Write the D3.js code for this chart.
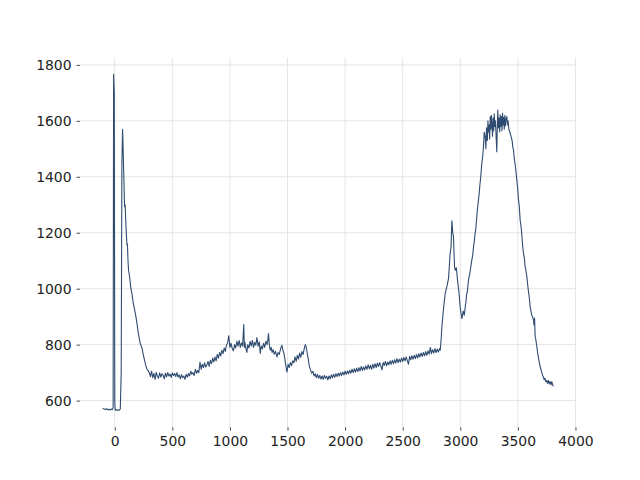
<!DOCTYPE html>
<html><head><meta charset="utf-8">
<script src="https://cdn.jsdelivr.net/npm/d3@7"></script>
<style>body{margin:0;background:#fff}</style>
</head><body>
<script>
const xValues = [
-106,-90,-80,-70,-60,-50,-40,-30,-20,-14,
-10,-4,0,4,10,20,30,40,48,56,
62,68,74,80,85,90,95,100,106,110,
115,120,130,140,149,160,170,184,195,205,
221,235,250,259,270,280,288,300,310,320,
330,340,350,360,370,380,390,400,410,420,
430,440,450,460,470,480,490,500,510,520,
530,540,550,560,570,580,590,600,610,620,
630,640,650,660,670,680,690,700,710,720,
730,740,750,760,770,780,790,800,810,820,
830,840,850,860,870,880,890,900,910,920,
930,940,950,960,970,980,990,1000,1010,1020,
1030,1040,1050,1060,1070,1080,1090,1100,1110,1120,
1125,1130,1140,1147,1155,1165,1175,1185,1195,1205,
1215,1225,1234,1245,1255,1263,1272,1282,1292,1302,
1312,1322,1330,1335,1342,1350,1358,1366,1375,1385,
1395,1408,1418,1428,1440,1451,1460,1470,1480,1490,
1495,1505,1515,1525,1535,1545,1555,1565,1575,1585,
1595,1605,1615,1625,1635,1645,1654,1662,1670,1680,
1690,1700,1710,1720,1730,1740,1750,1760,1770,1780,
1790,1800,1810,1820,1830,1840,1850,1860,1870,1880,
1890,1900,1910,1920,1930,1940,1950,1960,1970,1980,
1990,2000,2010,2020,2030,2040,2050,2060,2070,2080,
2090,2100,2110,2120,2130,2140,2150,2160,2170,2180,
2190,2200,2210,2220,2230,2240,2250,2260,2270,2280,
2290,2300,2310,2320,2330,2340,2350,2360,2370,2380,
2390,2400,2410,2420,2430,2440,2450,2460,2470,2480,
2490,2500,2510,2520,2530,2540,2550,2560,2570,2580,
2590,2600,2610,2620,2630,2640,2650,2660,2670,2680,
2690,2700,2710,2720,2730,2740,2750,2760,2770,2780,
2790,2800,2810,2820,2826,2834,2840,2855,2869,2885,
2898,2912,2920,2927,2935,2941,2950,2956,2966,2976,
2990,2999,3007,3014,3025,3035,3043,3050,3055,3062,
3071,3078,3085,3092,3100,3108,3115,3122,3129,3135,
3140,3148,3158,3164,3170,3178,3187,3194,3200,3208,
3216,3222,3228,3235,3240,3245,3250,3255,3260,3265,
3270,3274,3280,3285,3290,3295,3300,3305,3310,3317,
3322,3326,3331,3336,3342,3347,3352,3357,3362,3367,
3372,3377,3382,3387,3392,3397,3404,3410,3415,3422,
3433,3440,3450,3456,3462,3470,3475,3483,3491,3498,
3505,3512,3520,3527,3535,3542,3549,3556,3563,3570,
3578,3585,3592,3600,3607,3614,3620,3628,3636,3640,
3645,3650,3657,3665,3672,3680,3687,3694,3700,3708,
3715,3722,3728,3735,3742,3750,3757,3765,3772,3780,
3787,3795,3802,3809];
const yValues = [
572,570,568,571,567,569,566,570,568,575,
1766,1700,600,566,568,565,567,566,570,700,
1450,1570,1480,1380,1293,1300,1250,1200,1156,1160,
1100,1066,1040,1000,983,950,930,899,870,840,
804,790,760,744,725,712,708,700,686,705,
682,697,676,701,688,680,699,684,696,690,
678,698,685,700,688,695,683,699,690,697,
686,700,684,692,678,693,682,688,676,694,
684,697,688,705,694,700,690,712,698,708,
700,738,712,730,718,735,720,728,740,722,
744,732,752,738,756,742,765,752,772,760,
780,768,788,776,798,806,832,790,805,786,
778,800,788,812,795,815,790,806,795,872,
790,808,785,772,800,788,812,795,815,790,
808,798,825,795,810,769,795,785,805,790,
812,800,820,840,800,780,790,772,782,766,
776,756,772,765,785,798,780,768,740,712,
702,730,718,736,725,742,735,756,740,762,
748,770,755,775,765,785,800,792,772,748,
722,710,698,705,688,696,682,694,680,690,
677,688,676,690,680,687,674,688,678,692,
682,694,683,696,686,698,688,700,690,702,
692,705,694,706,696,708,698,712,700,714,
702,716,704,718,706,722,708,720,710,724,
712,728,714,726,712,730,716,732,718,734,
722,736,724,710,736,726,740,724,738,728,
742,730,744,732,746,734,750,736,748,738,
752,740,754,742,756,744,730,758,746,760,
748,762,750,765,752,768,756,770,758,772,
760,775,762,778,766,790,768,782,770,786,
772,784,774,786,780,820,863,930,983,1010,
1037,1126,1150,1243,1200,1186,1080,1066,1075,1031,
980,935,910,893,920,905,935,955,980,990,
1031,1045,1060,1080,1102,1120,1150,1170,1198,1215,
1240,1280,1317,1340,1370,1400,1448,1470,1500,1560,
1543,1500,1575,1530,1600,1560,1585,1535,1615,1570,
1620,1590,1545,1610,1565,1625,1580,1600,1555,1490,
1590,1639,1575,1610,1560,1622,1580,1615,1565,1628,
1585,1612,1570,1620,1582,1605,1615,1585,1600,1570,
1556,1545,1530,1505,1496,1460,1450,1420,1388,1360,
1320,1295,1245,1225,1190,1150,1126,1110,1080,1065,
1043,1015,990,965,935,920,905,900,887,870,
895,830,815,792,770,750,735,720,712,700,
690,684,675,680,668,672,662,672,660,668,
656,668,655,652];
const xTicks = [0,500,1000,1500,2000,2500,3000,3500,4000];
const yTicks = [600,800,1000,1200,1400,1600,1800];

const W = 640, H = 480;
const L = 80, R = 576, T = 57.6, B = 427.2;
const svg = d3.select("body").append("svg").attr("width", W).attr("height", H);

const xe = d3.extent(xValues), ye = d3.extent(yValues);
const xp = (xe[1]-xe[0])*0.05, yp = (ye[1]-ye[0])*0.05;
const x = d3.scaleLinear().domain([xe[0]-xp, xe[1]+xp]).range([L, R]);
const y = d3.scaleLinear().domain([ye[0]-yp, ye[1]+yp]).range([B, T]);

const g = svg.append("g");
g.selectAll(".gx").data(xTicks).join("line")
  .attr("x1", d => x(d)).attr("x2", d => x(d)).attr("y1", T).attr("y2", B)
  .attr("stroke", "#e5e5e5").attr("stroke-width", 1);
g.selectAll(".gy").data(yTicks).join("line")
  .attr("y1", d => y(d)).attr("y2", d => y(d)).attr("x1", L).attr("x2", R)
  .attr("stroke", "#e5e5e5").attr("stroke-width", 1);

const xAxis = svg.append("g").attr("transform", `translate(0,${B})`)
  .call(d3.axisBottom(x).tickValues(xTicks).tickSize(3.5).tickPadding(5).tickFormat(d3.format("d")));
const yAxis = svg.append("g").attr("transform", `translate(${L},0)`)
  .call(d3.axisLeft(y).tickValues(yTicks).tickSize(3.5).tickPadding(5).tickFormat(d3.format("d")));
[xAxis, yAxis].forEach(a => {
  a.select(".domain").remove();
  a.selectAll("line").attr("stroke", "#222").attr("stroke-width", 0.8);
  a.selectAll("text").attr("fill", "#222").style("font-family", "DejaVu Sans").style("font-size", "13.9px");
});
xAxis.selectAll("text").attr("dy", "0.71em");

const pts = xValues.map((v, i) => [v, yValues[i]]);
svg.append("path").datum(pts)
  .attr("fill", "none").attr("stroke", "#2f4c70").attr("stroke-width", 1.1)
  .attr("stroke-linejoin", "round")
  .attr("d", d3.line().x(d => x(d[0])).y(d => y(d[1])));
</script>
</body></html>
